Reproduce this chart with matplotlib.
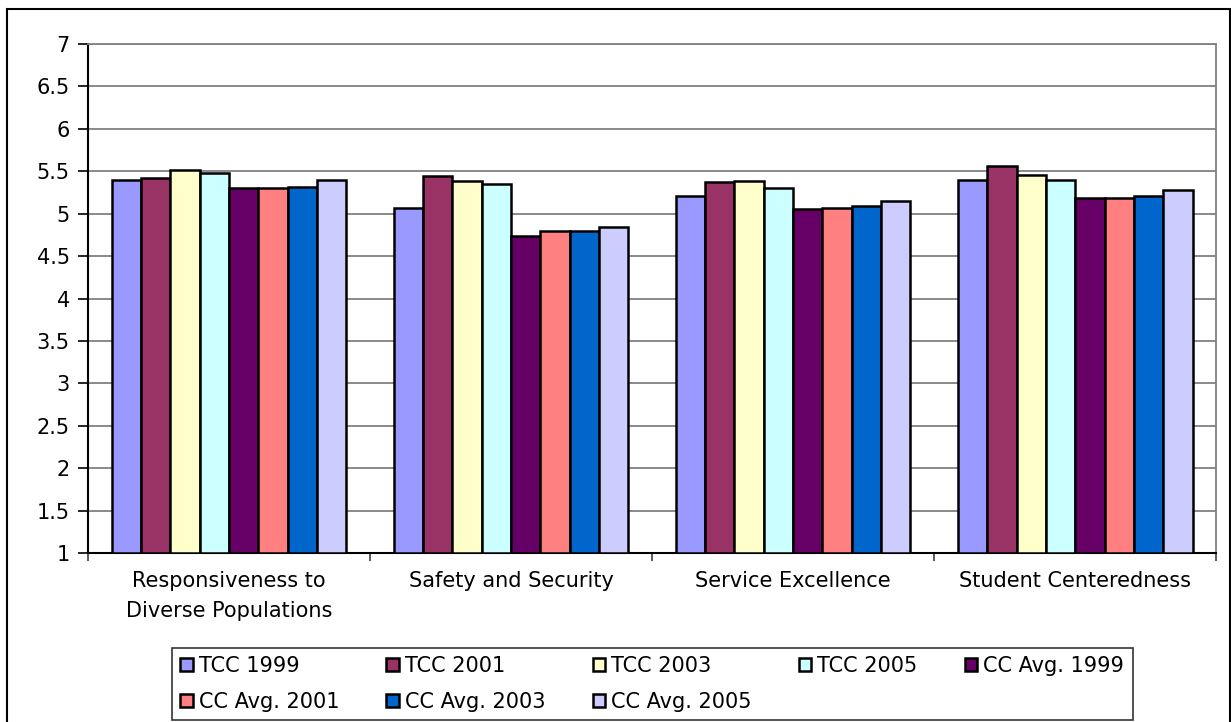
import matplotlib.pyplot as plt
import numpy as np
from matplotlib.patches import Rectangle

plt.rcParams['font.family'] = ['DejaVu Sans']

categories = ['Responsiveness to\nDiverse Populations', 'Safety and Security',
              'Service Excellence', 'Student Centeredness']
series = ['TCC 1999', 'TCC 2001', 'TCC 2003', 'TCC 2005',
          'CC Avg. 1999', 'CC Avg. 2001', 'CC Avg. 2003', 'CC Avg. 2005']
colors = ['#9999FF', '#993366', '#FFFFCC', '#CCFFFF',
          '#660066', '#FF8080', '#0066CC', '#CCCCFF']
tcc_1999 = [5.40, 5.07, 5.21, 5.40]
tcc_2001 = [5.42, 5.44, 5.37, 5.56]
tcc_2003 = [5.52, 5.38, 5.39, 5.46]
tcc_2005 = [5.48, 5.35, 5.30, 5.40]
cc_1999 = [5.30, 4.74, 5.05, 5.19]
cc_2001 = [5.30, 4.80, 5.07, 5.19]
cc_2003 = [5.32, 4.80, 5.09, 5.21]
cc_2005 = [5.40, 4.84, 5.15, 5.28]
values = [tcc_1999, tcc_2001, tcc_2003, tcc_2005, cc_1999, cc_2001, cc_2003, cc_2005]

fig = plt.figure(figsize=(12.31, 7.22), dpi=100)
ax = fig.add_axes([0.0715, 0.234, 0.9165, 0.705])

# outer chart frame
fig.patches.append(Rectangle((7/1231, -0.01), 1223/1231, 1 - 9/722 + 0.01,
                             transform=fig.transFigure, fill=False,
                             edgecolor='black', linewidth=1.5, zorder=0))

x = np.arange(len(categories))
w = 0.104
handles = []
for k in range(len(series)):
    b = ax.bar(x + (k - 3.5) * w, np.array(values[k]) - 1, w, bottom=1,
               color=colors[k], edgecolor='black', linewidth=1.8,
               label=series[k], zorder=3)
    handles.append(b)

ax.set_ylim(1, 7)
ax.set_xlim(-0.5, 3.5)
ax.set_yticks(np.arange(1, 7.01, 0.5))
ax.set_yticklabels(['%g' % v for v in np.arange(1, 7.01, 0.5)], fontsize=15)
ax.yaxis.grid(True, color='#808080', linewidth=1.3, zorder=0)
ax.set_axisbelow(True)

ax.set_xticks(x)
ax.set_xticklabels(categories, fontsize=15, linespacing=1.6)
ax.tick_params(axis='x', length=0, pad=13)
ax.set_xticks(np.arange(-0.5, 3.6, 1), minor=True)
ax.tick_params(axis='x', which='minor', length=6, width=1.2, color='#404040')
ax.tick_params(axis='y', length=7, width=1.2, pad=6)

ax.spines['left'].set_color('black')
ax.spines['left'].set_linewidth(1.5)
ax.spines['bottom'].set_color('black')
ax.spines['bottom'].set_linewidth(1.5)
ax.spines['top'].set_color('#808080')
ax.spines['top'].set_linewidth(1.3)
ax.spines['right'].set_color('#808080')
ax.spines['right'].set_linewidth(1.3)

order = [0, 5, 1, 6, 2, 7, 3, 4]
leg = fig.legend([handles[i] for i in order], [series[i] for i in order],
                 ncol=5, loc='lower left', bbox_to_anchor=(172/1231, 2/722),
                 borderaxespad=0, fontsize=15, frameon=True, fancybox=False,
                 handlelength=0.6, handleheight=0.6, handletextpad=0.3,
                 columnspacing=2.25, borderpad=0.4, labelspacing=0.75)
leg.get_frame().set_edgecolor('black')
leg.get_frame().set_linewidth(1.2)

plt.savefig('out.png', dpi=100)
